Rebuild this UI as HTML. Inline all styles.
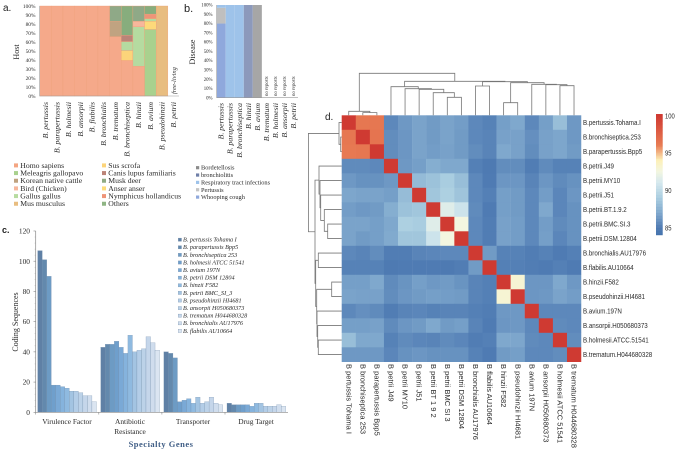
<!DOCTYPE html>
<html>
<head>
<meta charset="utf-8">
<title>Bordetella multi-panel figure</title>
<style>
html,body{margin:0;padding:0;background:#fff;width:676px;height:452px;overflow:hidden}
svg{display:block}
text{font-family:"Liberation Serif",serif;fill:#2a2a2a}
.sans{font-family:"Liberation Sans",sans-serif}
</style>
</head>
<body>
<svg id="fig" xmlns="http://www.w3.org/2000/svg" width="676" height="452" viewBox="0 0 676 452">
<text class="sans" x="3" y="11" font-size="10" style="fill:#222">a.</text>
<text class="sans" x="184" y="12" font-size="11" style="fill:#222">b.</text>
<text class="sans" x="2" y="233" font-size="9" font-weight="bold" style="fill:#222">c.</text>
<text class="sans" x="325" y="120" font-size="10" style="fill:#222">d.</text>
<text transform="translate(19,52) rotate(-90)" text-anchor="middle" font-size="8">Host</text>
<text transform="translate(195,52) rotate(-90)" text-anchor="middle" font-size="8">Disease</text>
<text transform="translate(176,94) rotate(-90)" font-size="6.5" font-style="italic">free-living</text>
<text transform="translate(18,322) rotate(-90)" text-anchor="middle" font-size="8">Coding Sequences</text>
<text x="161" y="447" text-anchor="middle" font-size="8.5" font-weight="bold" letter-spacing=".5" style="fill:#3f5d85">Specialty Genes</text>
<text x="67" y="424" text-anchor="middle" font-size="7.4">Virulence Factor</text>
<text x="130" y="424" text-anchor="middle" font-size="7.4">Antibiotic</text>
<text x="130" y="434" text-anchor="middle" font-size="7.4">Resistance</text>
<text x="193" y="424" text-anchor="middle" font-size="7.4">Transporter</text>
<text x="256" y="424" text-anchor="middle" font-size="7.4">Drug Target</text>
</svg>
<script>
/* ---------- Panel a data ---------- */
const hostCategories = ['B. pertussis','B. parapertussis','B. holmesii','B. ansorpii','B. flabilis','B. bronchialis','B. trematum','B. bronchiseptica','B. hinzii','B. avium','B. pseudohinzii','B. petrii'];
const hostHomo      = [100,100,100,100,100,100,66,39.5,33,0,0];
const hostMeleagris = [0,0,0,0,0,0,0,0,0,74,0];
const hostMus       = [0,0,0,0,0,0,0,0,0,0,100];
const hostAnser     = [0,0,0,0,0,0,0,0,0,9,0];
const hostSus       = [0,0,0,0,0,0,0,11,0,0,0];
const hostGallus    = [0,0,0,0,0,0,0,10,44,3,0];
const hostBird      = [0,0,0,0,0,0,0,0,6,0,0];
const hostKorean    = [0,0,0,0,0,0,17,0,0,0,0];
const hostCanis     = [0,0,0,0,0,0,0,7,0,0,0];
const hostNymphicus = [0,0,0,0,0,0,0,0,0,5,0];
const hostMusk      = [0,0,0,0,0,0,17,0,17,0,0];
const hostOthers    = [0,0,0,0,0,0,0,32.5,0,9,0];
const percentTicks  = [0,10,20,30,40,50,60,70,80,90,100];

/* ---------- Panel b data ---------- */
const diseaseCategories = ['B. pertussis','B. parapertussis','B. bronchiseptica','B. hinzii','B. avium','B. trematum','B. holmesii','B. ansorpii','B. petrii'];
const diseaseWhooping    = [80,0,0,0,0];
const diseasePertussis   = [17,0,0,0,0];
const diseaseRespiratory = [3,100,100,0,0];
const diseaseBronchiolitis = [0,0,0,100,0];
const diseaseBordetellosis = [0,0,0,0,100];

/* ---------- Panel c data ---------- */
const geneStrains = ['B. pertussis Tohama I','B. parapertussis Bpp5','B. bronchiseptica 253','B. holmesii ATCC 51541','B. avium 197N','B. petrii DSM 12804','B. hinzii F582','B. petrii BMC_SI_3','B. pseudohinzii HI4681','B. ansorpii H050680373','B. trematum H044680328','B. bronchialis AU17976','B. flabilis  AU10664'];
const virulenceValues  = [107,101,90,18,18,17,16,14,14,13,11,11,7];
const antibioticValues = [43,45,45,47,43,39,51,40,41,42,50,46,41];
const transporterValues = [40,39,36,7,8,9,6,10,6,7,10,6,5];
const drugTargetValues = [6,5,5,5,5,4,6,6,4,4,4,5,4];
const geneTicks = [0,20,40,60,80,100,120];

/* ---------- Panel d data ---------- */
const strainRowLabels = ['B.pertussis.Tohama.I','B.bronchiseptica.253','B.parapertussis.Bpp5','B.petrii.J49','B.petrii.MY10','B.petrii.J51','B.petrii.BT.1.9.2','B.petrii.BMC.SI.3','B.petrii.DSM.12804','B.bronchialis.AU17976','B.flabilis.AU10664','B.hinzii.F582','B.pseudohinzii.HI4681','B.avium.197N','B.ansorpii.H050680373','B.holmesii.ATCC.51541','B.trematum.H044680328'];
const strainColLabels = ['B pertussis Tohama I','B bronchiseptica 253','B parapertussis Bpp5','B petrii J49','B petrii MY10','B petrii J51','B petrii BT 1 9 2','B petrii BMC SI 3','B petrii DSM 12804','B bronchialis AU17976','B flabilis AU10664','B hinzii F582','B pseudohinzii HI4681','B avium 197N','B ansorpii H050680373','B holmesii ATCC 51541','B trematum H044680328'];
const identityRow0  = [100,96.3,96.3,85.6,86.3,86.8,86.4,86.8,86.5,85.6,85.3,86.6,87,85.6,86.6,88.2,86.3];
const identityRow1  = [96.3,100,96.5,85.8,86.2,86.8,86.4,86.8,86.4,85.6,85.4,86.7,86.7,85.9,86.7,86.9,86.3];
const identityRow2  = [96.2,96.3,100,85.8,86.2,86.8,86.5,86.7,86.4,85.8,85.4,87,86.7,85.8,86.7,86.9,86.4];
const identityRow3  = [85.7,85.7,85.6,100,86.3,86.6,87.3,87,87,85.2,84.9,85.8,85.8,85.1,85.7,85.3,85.3];
const identityRow4  = [86.3,86,86,86.3,100,88,88.4,89,88.2,85.6,85,86.2,86.2,85.4,86.2,85.7,86];
const identityRow5  = [86.9,86.8,86.8,86.6,88.1,100,88.6,89.2,88.5,85.6,85.2,86.6,86.4,85.6,86.5,85.5,86.2];
const identityRow6  = [86.5,86.3,86.4,87.3,88.4,88.6,100,91.5,90.6,85.7,85,86.6,86.4,85.6,87,85.5,86];
const identityRow7  = [86.8,86.8,86.6,87,89.2,89,91.5,100,92.5,85.6,85.1,86.7,86.5,85.6,86.5,85.7,86];
const identityRow8  = [86.8,86.4,86.6,87.1,88.6,88.6,90.6,92.5,100,85.6,85.1,86.7,86.5,85.6,86.6,85.5,86];
const identityRow9  = [85.6,85.4,85.8,85.1,85.1,85.4,85.5,85.6,85.6,100,86.4,85.3,85.3,85.1,85.3,85,85.2];
const identityRow10 = [85.3,85.3,85.3,84.9,85,85,85,84.9,85.1,86.4,100,85.2,85.2,85.1,85,85.2,85];
const identityRow11 = [86.6,86.6,87,85.7,86.1,86.6,86.3,86.4,86.1,85.4,85.2,100,93,86.2,86.2,87,86.3];
const identityRow12 = [86.8,86.7,86.7,85.8,86.2,86.4,86.6,86.5,86.4,85.4,85.2,93,100,86.2,86.3,86.8,86.5];
const identityRow13 = [85.6,85.9,85.7,85.1,85.4,85.5,85.3,85.4,85.4,85.2,85.1,86.3,86.3,100,85.6,85.6,85.6];
const identityRow14 = [86.6,86.6,86.7,85.7,86.2,86.4,87,86.4,86.6,85.4,85,86.2,86.3,85.6,100,85.7,85.6];
const identityRow15 = [88.2,87,87,85.3,85.7,85.5,85.4,85.7,85.5,85.1,85.2,87,86.9,85.7,85.6,100,85.8];
const identityRow16 = [86.3,86.3,86.3,85.5,86,86.2,86,86,86,85.3,85,86.4,86.6,85.6,85.6,85.8,100];
const colorbarTicks = [100,95,90,85];
/* linkage trees: [distance, childA, childB]; a number is a leaf index */
const columnTree = [42,[4,0,[2.7,1,2]],[34,[28.6,3,[26.6,4,[26,5,[22.6,6,[18,7,8]]]]],[33.6,[29.3,9,10],[32.6,[12.6,11,12],[31,13,[30.6,14,[29.6,15,16]]]]]]];
const rowTree = [33.3,[2.7,0,[1,1,2]],[26.7,[22.7,3,[21.7,4,[21,5,[17.4,6,[14,7,8]]]]],[26,[23.4,9,10],[25,[10,11,12],[24.7,13,[24,14,[23.4,15,16]]]]]]];

const NS = 'http://www.w3.org/2000/svg';
const fig = document.getElementById('fig');
function mk(tag, attrs, txt){
  const el = document.createElementNS(NS, tag);
  for (const k in attrs) el.setAttribute(k, attrs[k]);
  if (txt !== undefined) el.textContent = txt;
  fig.appendChild(el);
  return el;
}

/* ---------- Panel a ---------- */
const hostY = v => 96 - v * 0.9;
const hostX = i => 39.7 + i * 11.65;
const hostStack = [
  [hostHomo,'#f5a98a'],[hostMeleagris,'#a9d18e'],[hostMus,'#e8bd80'],[hostAnser,'#fdd97a'],
  [hostSus,'#fcd47a'],[hostGallus,'#b5dba0'],[hostBird,'#f7b79c'],[hostKorean,'#c0a381'],
  [hostCanis,'#bb8478'],[hostNymphicus,'#ee9478'],[hostMusk,'#8fa987'],[hostOthers,'#87ad7d']
];
hostHomo.forEach((_, i) => {
  let base = 0;
  hostStack.forEach(s => {
    const v = s[0][i];
    if (!v) return;
    const r = mk('rect', {x: hostX(i), y: hostY(base + v), width: 11.65, height: v * 0.9, fill: s[1], stroke: '#ee9e78', 'stroke-width': .35});
    
    
    base += v;
  });
});
const hostAxisLine = mk('path', {d: 'M39.7 6V96H179', stroke: '#999', 'stroke-width': .6, fill: 'none'});


percentTicks.forEach(t => {
  const l = mk('text', {x: 35.5, y: hostY(t) + 1.8, 'text-anchor': 'end', 'font-size': 5.4}, t + '%');
  
  
});
hostCategories.forEach((c, i) => {
  const l = mk('text', {transform: 'translate(' + (hostX(i) + 8.2) + ',102) rotate(-90)', 'text-anchor': 'end', 'font-size': 7.8, 'font-style': 'italic'}, c);
  
  
});

/* legend a */
const hostLegend = [
  ['Homo sapiens','#f4a582',14,0],['Meleagris gallopavo','#a9d18e',14,1],['Korean native cattle','#bfa27f',14,2],
  ['Bird (Chicken)','#f7b79c',14,3],['Gallus gallus','#b7dca0',14,4],['Mus musculus','#e8bd80',14,5],
  ['Sus scrofa','#fcd47a',102,0],['Canis lupus familiaris','#bb8478',102,1],['Musk deer','#8faa84',102,2],
  ['Anser anser','#fddc7a',102,3],['Nymphicus hollandicus','#ee9478',102,4],['Others','#8fb584',102,5]
];
hostLegend.forEach(e => {
  const y = 165.4 + e[3] * 7.67;
  const s = mk('rect', {x: e[2], y: y - 2, width: 4, height: 4, fill: e[1]});
  
  
  const t = mk('text', {x: e[2] + 6.3, y: y + 2.4, 'font-size': 7.7}, e[0]);
  
  
});

/* ---------- Panel b ---------- */
const disY = v => 97.7 - v * 0.927;
const disX = i => 216.7 + i * 9.03;
const disStack = [
  [diseaseWhooping,'#8fa8dc'],[diseasePertussis,'#bfbfbf'],[diseaseRespiratory,'#9ec3ea'],
  [diseaseBronchiolitis,'#8c99bb'],[diseaseBordetellosis,'#a6a6a6']
];
diseaseWhooping.forEach((_, i) => {
  let base = 0;
  disStack.forEach(s => {
    const v = s[0][i];
    if (!v) return;
    const r = mk('rect', {x: disX(i), y: disY(base + v), width: 9.03, height: v * 0.927, fill: s[1]});
    
    
    base += v;
  });
});
const disAxisLine = mk('path', {d: 'M216.7 5V97.7H298', stroke: '#999', 'stroke-width': .6, fill: 'none'});


percentTicks.forEach(t => {
  const l = mk('text', {x: 212.5, y: disY(t) + 1.6, 'text-anchor': 'end', 'font-size': 4.8}, t + '%');
  
  
});
diseaseCategories.forEach((c, i) => {
  const l = mk('text', {transform: 'translate(' + (disX(i) + 7) + ',103) rotate(-90)', 'text-anchor': 'end', 'font-size': 7.8, 'font-style': 'italic'}, c);
  
  
  if (i >= 5) {
    const n = mk('text', {transform: 'translate(' + (disX(i) + 6) + ',96) rotate(-90)', 'font-size': 4.8, 'font-style': 'italic'}, 'no reports');
    
    
  }
});
const diseaseLegend = [['Bordetellosis','#8c8c8c'],['bronchiolitis','#6f7fa8'],['Respiratory tract infections','#9ec3ea'],['Pertussis','#c4c4c4'],['Whooping cough','#8fa8dc']];
diseaseLegend.forEach((e, i) => {
  const y = 167.7 + i * 7.35;
  const s = mk('rect', {x: 196, y: y - 1.6, width: 3.2, height: 3.2, fill: e[1]});
  
  
  const t = mk('text', {x: 201, y: y + 2, 'font-size': 6.35}, e[0]);
  
  
});

/* ---------- Panel c ---------- */
const geneColors = ['#5f80a5','#6389ad','#6d9bc4','#6f9fcc','#7aa9d6','#85b3dd','#8fbae0','#a3c4e2','#b3cde7','#bcd2e8','#c5d6ea','#d0dded','#dbe5f1'];
const geneY = v => 412.3 - v * 1.511;
const geneGroups = [virulenceValues, antibioticValues, transporterValues, drugTargetValues];
const geneGroupX = g => 37.7 + g * 63.1;
geneGroups.forEach((vals, g) => {
  vals.forEach((v, i) => {
    const r = mk('rect', {x: geneGroupX(g) + i * 4.52, y: geneY(v), width: 4.52, height: v * 1.511, fill: geneColors[i], stroke: '#6f8aa8', 'stroke-width': .25});
    
    
  });
});
const geneAxes = mk('path', {d: 'M35.7 231V412.3H288', stroke: '#888', 'stroke-width': .7, fill: 'none'});


geneTicks.forEach(t => {
  const m = mk('line', {x1: 33.5, x2: 35.7, y1: geneY(t), y2: geneY(t), stroke: '#888', 'stroke-width': .6});
  
  
  const l = mk('text', {x: 30, y: geneY(t) + 2.6, 'text-anchor': 'end', 'font-size': 7.4}, t);
  
  
  if (t < 120) [4,8,12,16].forEach(d => {
    const n = mk('line', {x1: 34.6, x2: 35.7, y1: geneY(t + d), y2: geneY(t + d), stroke: '#aaa', 'stroke-width': .4});
    
    
  });
});
geneGroups.forEach((_, g) => {
  const x = 35.7 + g * 63.1;
  const m = mk('line', {x1: x, x2: x, y1: 412.3, y2: 414.5, stroke: '#888', 'stroke-width': .6});
  
  
});
geneStrains.forEach((n, i) => {
  const y = 239.7 + i * 7.6;
  const s = mk('rect', {x: 178.3, y: y - 1.6, width: 3.2, height: 3.2, fill: geneColors[i], stroke: '#6f8aa8', 'stroke-width': .3});
  
  
  const t = mk('text', {x: 183, y: y + 1.9, 'font-size': 6.2, 'font-style': 'italic'}, n);
  
  
});

/* ---------- Panel d ---------- */
const identityMatrix = [identityRow0,identityRow1,identityRow2,identityRow3,identityRow4,identityRow5,identityRow6,identityRow7,identityRow8,identityRow9,identityRow10,identityRow11,identityRow12,identityRow13,identityRow14,identityRow15,identityRow16];
const heatX0 = 341.7, heatY0 = 115.3, cellW = 14.08, cellH = 14.5;
const heatX = i => heatX0 + i * cellW;
const heatY = i => heatY0 + i * cellH;
const scaleStops = [[84,'#4473ad'],[85,'#4f7bb3'],[87,'#7fa8cd'],[89,'#a9cde0'],[91,'#d5e8ee'],[92.5,'#f3f6e0'],[94,'#fdf0b8'],[96,'#e87c54'],[98,'#dc5a42'],[100,'#cf3a32']];
function hex2(c){return [1,3,5].map(p => parseInt(c.substr(p,2),16));}
function heatColor(v){
  if (v <= scaleStops[0][0]) return scaleStops[0][1];
  for (let i = 1; i < scaleStops.length; i++) {
    if (v <= scaleStops[i][0]) {
      const a = scaleStops[i-1], b = scaleStops[i], f = (v - a[0]) / (b[0] - a[0]);
      const ca = hex2(a[1]), cb = hex2(b[1]);
      return 'rgb(' + ca.map((x, k) => Math.round(x + (cb[k] - x) * f)).join(',') + ')';
    }
  }
  return scaleStops[scaleStops.length-1][1];
}
identityMatrix.forEach((row, r) => {
  row.forEach((v, c) => {
    const cell = mk('rect', {x: heatX(c), y: heatY(r), width: cellW + .2, height: cellH + .2, fill: heatColor(v)});
    
    
  });
});
strainRowLabels.forEach((n, i) => {
  const t = mk('text', {class: 'sans', transform: 'translate(583,' + (heatY(i) + cellH / 2 + 2.4) + ') scale(.9,1)', 'font-size': 6.9}, n);
  
  
});
strainColLabels.forEach((n, i) => {
  const t = mk('text', {class: 'sans', transform: 'translate(' + (heatX(i) + cellW / 2 - 2.4) + ',364) rotate(90) scale(1.09,1)', 'font-size': 6.9}, n);
  
  
});

/* dendrograms */
function drawTopTree(node){
  if (typeof node === 'number') return {x: heatX(node) + cellW / 2, y: heatY0};
  const a = drawTopTree(node[1]), b = drawTopTree(node[2]);
  const y = heatY0 - node[0];
  const p = mk('path', {d: 'M' + a.x + ' ' + a.y + 'V' + y + 'H' + b.x + 'V' + b.y, fill: 'none', stroke: '#777', 'stroke-width': .8});
  
  
  return {x: (a.x + b.x) / 2, y: y};
}
function drawLeftTree(node){
  if (typeof node === 'number') return {x: heatX0, y: heatY(node) + cellH / 2};
  const a = drawLeftTree(node[1]), b = drawLeftTree(node[2]);
  const x = heatX0 - node[0];
  const p = mk('path', {d: 'M' + a.x + ' ' + a.y + 'H' + x + 'V' + b.y + 'H' + b.x, fill: 'none', stroke: '#777', 'stroke-width': .8});
  
  
  return {x: x, y: (a.y + b.y) / 2};
}
drawTopTree(columnTree);
drawLeftTree(rowTree);

/* colour bar */
const barY = v => 228 - (v - 85) * 7.47;
for (let v = 84.06; v < 100.1; v += 0.2) {
  const seg = mk('rect', {x: 656, y: barY(v + 0.2), width: 6.7, height: 0.2 * 7.47 + .2, fill: heatColor(v)});
  
  
}
colorbarTicks.forEach(t => {
  const l = mk('text', {class: 'sans', transform: 'translate(665,' + (barY(t) + 2.4) + ') scale(.85,1)', 'font-size': 6.9}, t);
  
  
});
</script>
</body>
</html>
